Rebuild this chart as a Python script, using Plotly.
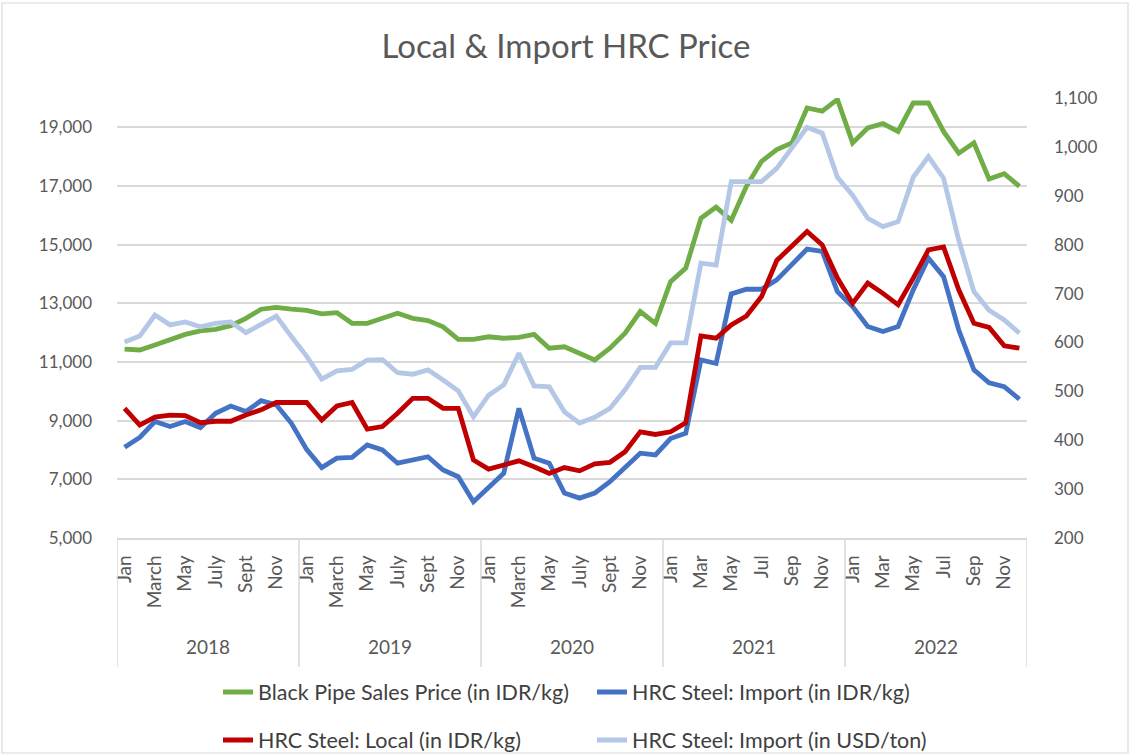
import plotly.graph_objects as go

# ---------------- data ----------------
years = ["2018", "2019", "2020", "2021", "2022"]
months_old = ["Jan", "Feb", "March", "Apr", "May", "Jun", "July", "Aug", "Sept", "Oct", "Nov", "Dec"]
months_new = ["Jan", "Feb", "Mar", "Apr", "May", "Jun", "Jul", "Aug", "Sep", "Oct", "Nov", "Dec"]

black_pipe_idr = [
    11440, 11410, 11580, 11770, 11940, 12060, 12110, 12240, 12490, 12800, 12860, 12800,
    12760, 12640, 12680, 12320, 12320, 12490, 12660, 12490, 12410, 12200, 11770, 11770,
    11860, 11810, 11840, 11940, 11470, 11520, 11300, 11070, 11470, 11980, 12720, 12320,
    13740, 14200, 15900, 16280, 15830, 16990, 17840, 18240, 18470, 19660, 19550, 19950,
    18470, 18980, 19130, 18860, 19830, 19830, 18860, 18120, 18470, 17240, 17420, 16990,
]
hrc_import_idr = [
    8090, 8430, 8970, 8800, 8970, 8760, 9250, 9500, 9310, 9680, 9540, 8910,
    8020, 7400, 7720, 7750, 8170, 8000, 7550, 7640, 7770, 7320, 7090, 6240,
    6700, 7210, 9420, 7720, 7550, 6530, 6360, 6530, 6920, 7430, 7890, 7830,
    8390, 8570, 11070, 10950, 13320, 13480, 13480, 13800, 14310, 14850, 14770, 13400,
    12890, 12210, 12040, 12210, 13460, 14540, 13910, 12090, 10730, 10290, 10160, 9730,
]
hrc_local_idr = [
    9420, 8850, 9120, 9190, 9170, 8930, 8980, 8980, 9190, 9370, 9620, 9620,
    9620, 9020, 9500, 9620, 8710, 8800, 9250, 9760, 9760, 9420, 9420, 7660,
    7350, 7490, 7630, 7430, 7200, 7400, 7290, 7530, 7580, 7940, 8620, 8530,
    8620, 8930, 11890, 11810, 12260, 12570, 13230, 14460, 14940, 15450, 14990, 13860,
    13000, 13690, 13340, 12950, 13860, 14820, 14920, 13460, 12320, 12180, 11550, 11470,
]
hrc_import_usd = [
    601, 613, 656, 636, 642, 632, 639, 642, 620, 636, 654, 612,
    572, 525, 542, 545, 564, 565, 538, 535, 544, 523, 501, 448,
    492, 513, 578, 511, 509, 458, 435, 447, 465, 503, 549, 549,
    599, 599, 762, 758, 929, 929, 929, 956, 997, 1040, 1028, 938,
    901, 854, 837, 847, 938, 980, 936, 809, 704, 666, 646, 619,
]

left_ticks = [5000, 7000, 9000, 11000, 13000, 15000, 17000, 19000]
right_ticks = [200, 300, 400, 500, 600, 700, 800, 900, 1000, 1100]

# ---------------- build ----------------
month_labels = []
for yi, yr in enumerate(years):
    month_labels += months_old if yi < 3 else months_new
x = list(range(len(month_labels)))
tickvals = x[::2]
ticktext = month_labels[::2]

FONT = "Lato"
TXT = "#595959"
GRID = "#D9D9D9"

L, R, T, B = 117, 105, 98, 217
W, H = 1132, 755
pw, ph = W - L - R, H - T - B

def px_x(p):
    return (p - L) / pw

def px_y(p):
    return (H - B - p) / ph

fig = go.Figure()
# draw order: light blue, blue, red, green (legend placement handled separately)
series = [
    ("HRC Steel: Import (in USD/ton)", hrc_import_usd, "#B4C7E7", "y2", "legend5"),
    ("HRC Steel: Import (in IDR/kg)", hrc_import_idr, "#4472C4", "y", "legend3"),
    ("HRC Steel: Local (in IDR/kg)", hrc_local_idr, "#C00000", "y", "legend4"),
    ("Black Pipe Sales Price (in IDR/kg)", black_pipe_idr, "#70AD47", "y", "legend2"),
]
for name, vals, col, yax, leg in series:
    fig.add_trace(go.Scatter(
        x=x, y=vals, name=name, mode="lines", yaxis=yax, legend=leg, showlegend=True,
        line=dict(color=col, width=4.8), hoverinfo="skip",
    ))

shapes = []
# category group separators
for k in range(len(years) + 1):
    xv = k * 12 - 0.5
    shapes.append(dict(type="line", xref="x", yref="paper", x0=xv, x1=xv,
                       y0=0, y1=px_y(667), line=dict(color=GRID, width=1.5)))
# chart-area border
shapes.append(dict(type="rect", xref="paper", yref="paper",
                   x0=px_x(2), x1=px_x(1128), y0=px_y(753), y1=px_y(3),
                   line=dict(color=GRID, width=1.2), layer="below"))

annotations = []
for k, yr in enumerate(years):
    annotations.append(dict(x=k * 12 + 5.5, y=px_y(646), xref="x", yref="paper",
                            yanchor="middle", text=yr, showarrow=False,
                            font=dict(family=FONT, size=19, color=TXT)))

leg_common = dict(orientation="h", yanchor="middle", xanchor="left",
                  font=dict(family=FONT, size=21.5, color="#404040"),
                  bgcolor="rgba(0,0,0,0)")

fig.update_layout(
    width=W, height=H,
    margin=dict(l=L, r=R, t=T, b=B, autoexpand=False),
    showlegend=True,
    paper_bgcolor="white", plot_bgcolor="white",
    title=dict(text="Local &amp; Import HRC Price", x=0.5, xref="container", xanchor="center",
               y=1 - 46 / H, yanchor="middle",
               font=dict(family=FONT, size=33, color=TXT)),
    xaxis=dict(range=[-0.5, len(x) - 0.5], tickmode="array", tickvals=tickvals, ticktext=ticktext,
               tickangle=-90, showgrid=False, zeroline=False, showline=True,
               linecolor=GRID, linewidth=1.5, ticks="",
               tickfont=dict(family=FONT, size=19, color=TXT), ticklabelstandoff=8),
    yaxis=dict(range=[5000, 20000], tickmode="array", tickvals=left_ticks, tickformat=",",
               showgrid=True, gridcolor=GRID, gridwidth=1.5, zeroline=False, showline=False,
               ticks="", tickfont=dict(family=FONT, size=17, color=TXT), ticklabelstandoff=24),
    yaxis2=dict(range=[200, 1100], tickmode="array", tickvals=right_ticks, tickformat=",",
                overlaying="y", side="right", showgrid=False, zeroline=False, showline=False,
                ticks="", tickfont=dict(family=FONT, size=17, color=TXT), ticklabelstandoff=26),
    legend=dict(visible=False),
    legend2=dict(x=px_x(218), y=px_y(692), **leg_common),
    legend3=dict(x=px_x(592), y=px_y(692), **leg_common),
    legend4=dict(x=px_x(218), y=px_y(740), **leg_common),
    legend5=dict(x=px_x(592), y=px_y(740), **leg_common),
    shapes=shapes, annotations=annotations,
)

fig.write_html("out.html", config={"displayModeBar": False},
               post_script="document.body.style.margin='0px';")
